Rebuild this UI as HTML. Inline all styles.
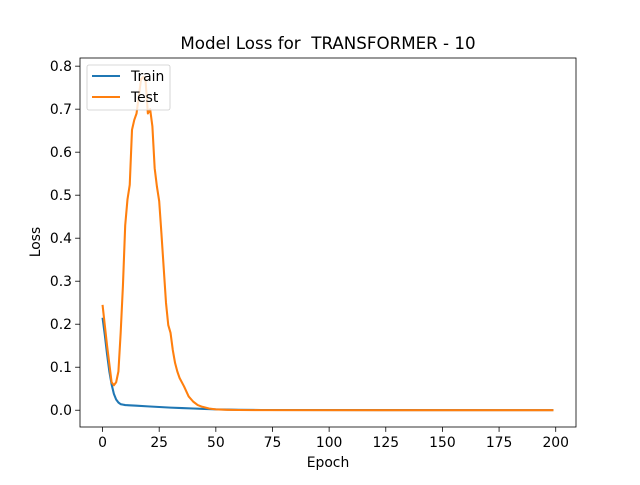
<!DOCTYPE html>
<html><head><meta charset="utf-8"><style>
body{margin:0;background:#fff}
svg text{font-family:"DejaVu Sans","Liberation Sans",sans-serif;fill:#000}
</style></head><body>
<svg id="c" width="640" height="480" xmlns="http://www.w3.org/2000/svg"></svg>
<script>
const trainEpochs=[0,1,2,3,4,5,6,7,8,9,10,15,20,25,30,35,40,45,50,55,60,70,199];
const trainLoss=[0.215,0.175,0.13,0.09,0.06,0.038,0.025,0.018,0.014,0.013,0.012,0.0105,0.009,0.0075,0.006,0.005,0.004,0.003,0.002,0.0015,0.001,0.0005,0.0002];
const testEpochs=[0,2,4,5,6,7,8,9,10,11,12,13,14,15,17,18,19,20,21,22,23,24,25,26,27,28,29,30,31,32,33,34,36,38,40,42,44,47,50,55,60,70,199];
const testLoss=[0.245,0.15,0.065,0.058,0.065,0.09,0.18,0.29,0.43,0.49,0.524,0.652,0.675,0.69,0.77,0.775,0.765,0.69,0.70,0.66,0.563,0.52,0.486,0.41,0.33,0.25,0.198,0.18,0.14,0.11,0.09,0.075,0.055,0.032,0.02,0.012,0.008,0.004,0.002,0.001,0.0005,0.0002,0.0001];
const xTicks=[0,25,50,75,100,125,150,175,200];
const yTicks=[0,0.1,0.2,0.3,0.4,0.5,0.6,0.7,0.8];
const L=80,R=576,T=58,B=427,x0=-9.95,x1=208.95,y0=-0.039,y1=0.819;
const X=v=>L+(v-x0)/(x1-x0)*(R-L), Y=v=>B-(v-y0)/(y1-y0)*(B-T);
const s=document.getElementById('c'),NS='http://www.w3.org/2000/svg';
function mk(t,a,p){const e=document.createElementNS(NS,t);for(const k in a)e.setAttribute(k,a[k]);(p||s).appendChild(e);return e;}
xTicks.forEach(v=>{const g=mk('g',{});


mk('line',{x1:X(v),x2:X(v),y1:B,y2:B+4.9,stroke:'#000','stroke-width':0.8},g);
const t=mk('text',{x:X(v),y:B+20,'text-anchor':'middle','font-size':13.9},g);t.textContent=v;});
yTicks.forEach(v=>{const g=mk('g',{});


mk('line',{x1:L-4.9,x2:L,y1:Y(v),y2:Y(v),stroke:'#000','stroke-width':0.8},g);
const t=mk('text',{x:L-8,y:Y(v)+5,'text-anchor':'end','font-size':13.9},g);t.textContent=v.toFixed(1);});
function line(ex,ys,c,n){const p=mk('polyline',{points:ex.map((e,i)=>X(e)+','+Y(ys[i])).join(' '),fill:'none',stroke:c,'stroke-width':2.08,'stroke-linejoin':'round'});

}
line(trainEpochs,trainLoss,'#1f77b4','train-line');
line(testEpochs,testLoss,'#ff7f0e','test-line');
const fr=mk('rect',{x:L,y:T,width:R-L,height:B-T,fill:'none',stroke:'#000','stroke-width':0.8});


</script>
<svg width="640" height="480" style="position:absolute;left:0;top:0" xmlns="http://www.w3.org/2000/svg">
<text x="328" y="49" text-anchor="middle" font-size="16.7" xml:space="preserve">Model Loss for  TRANSFORMER - 10</text>
<text x="328" y="467" text-anchor="middle" font-size="13.9">Epoch</text>
<text transform="translate(40,242) rotate(-90)" text-anchor="middle" font-size="13.9">Loss</text>
<g>
<rect x="87" y="65" width="83" height="45" rx="2" fill="#fff" fill-opacity="0.8" stroke="#ccc" stroke-width="0.8"/>
<line x1="92" x2="120" y1="76" y2="76" stroke="#1f77b4" stroke-width="2.08"/>
<text x="131" y="81" font-size="13.9">Train</text>
<line x1="92" x2="120" y1="97" y2="97" stroke="#ff7f0e" stroke-width="2.08"/>
<text x="131" y="102" font-size="13.9">Test</text>
</g>
</svg>
</body></html>
